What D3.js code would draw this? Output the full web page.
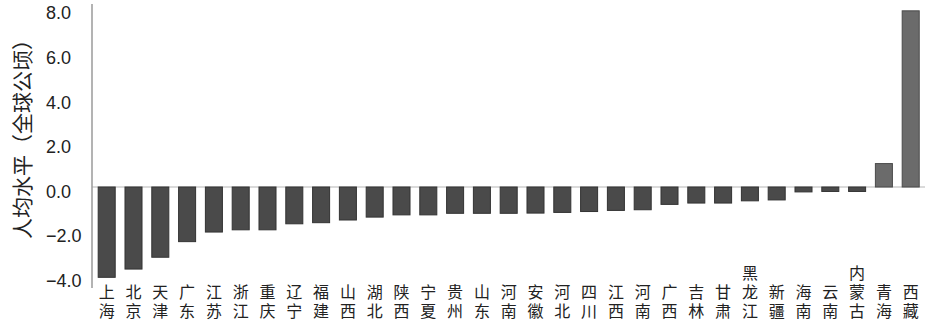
<!DOCTYPE html>
<html>
<head>
<meta charset="utf-8">
<script src="https://cdn.jsdelivr.net/npm/d3@7"></script>
<style>
  body { margin: 0; background: #fff; }
  svg { display: block; }
</style>
</head>
<body>
<div id="root"><svg width="931" height="326"></svg></div>
<script>
const provinces = ['上海', '北京', '天津', '广东', '江苏', '浙江', '重庆', '辽宁', '福建', '山西',
  '湖北', '陕西', '宁夏', '贵州', '山东', '河南', '安徽', '河北', '四川', '江西',
  '河南', '广西', '吉林', '甘肃', '黑龙江', '新疆', '海南', '云南', '内蒙古', '青海', '西藏'];
const perCapita = [-4.05, -3.68, -3.15, -2.45, -2.02, -1.92, -1.92, -1.65, -1.6, -1.48,
  -1.35, -1.25, -1.25, -1.18, -1.18, -1.18, -1.17, -1.14, -1.1, -1.05,
  -1.02, -0.78, -0.72, -0.72, -0.62, -0.58, -0.22, -0.2, -0.2, 1.05, 7.9];
const yTicks = [-4, -2, 0, 2, 4, 6, 8];
const yTitle = '人均水平（全球公顷）';

function drawChart() {
  const svg = d3.select('#root svg');
  const axisX = 92;

  const xScale = d3.scaleBand()
    .domain(d3.range(provinces.length))
    .range([93.3, 924.1])
    .paddingInner(0.365)
    .paddingOuter(0.1825);
  const yScale = d3.scaleLinear().domain([-4, 8]).range([276.2, 8.6]);

  // zero line
  svg.append('line')
    .attr('x1', axisX).attr('x2', 925)
    .attr('y1', yScale(0)).attr('y2', yScale(0))
    .attr('stroke', '#b5b5b5')
    .attr('stroke-width', 1.2);

  // y axis: labels only, line drawn separately
  const yAxis = d3.axisLeft(yScale)
    .tickValues(yTicks)
    .tickSize(0)
    .tickFormat(d3.format('.1f'));
  const yG = svg.append('g')
    .attr('transform', `translate(${axisX} 0)`)
    .call(yAxis);
  yG.select('.domain').remove();
  yG.selectAll('text')
    .attr('x', 46 - axisX)
    .attr('y', 4)
    .attr('dy', '0.35em')
    .attr('text-anchor', 'start')
    .attr('fill', '#222')
    .style('font-family', '"Liberation Sans", Arial, sans-serif')
    .style('font-size', '18px');

  svg.append('line')
    .attr('x1', axisX).attr('x2', axisX)
    .attr('y1', 4).attr('y2', 288)
    .attr('stroke', '#9a9a9a')
    .attr('stroke-width', 1.5);

  svg.append('text')
    .attr('transform', 'translate(30 134) rotate(-90)')
    .attr('text-anchor', 'middle')
    .attr('fill', '#222')
    .style('font-family', '"Noto Sans CJK SC", sans-serif')
    .style('font-size', '21px')
    .text(yTitle);

  // bars
  svg.selectAll('rect.bar')
    .data(perCapita)
    .enter()
    .append('rect')
    .attr('class', 'bar')
    .attr('x', (d, i) => xScale(i))
    .attr('y', (d) => yScale(Math.max(0, d)))
    .attr('width', xScale.bandwidth())
    .attr('height', (d) => Math.abs(yScale(d) - yScale(0)))
    .attr('fill', (d) => d > 0 ? '#6b6b6b' : '#4a4a4a')
    .attr('stroke', (d) => d > 0 ? '#4a4a4a' : '#333')
    .attr('stroke-width', 1);

  // category labels written vertically, bottom aligned
  svg.selectAll('text.cat')
    .data(provinces)
    .enter()
    .append('text')
    .attr('class', 'cat')
    .attr('x', (d, i) => xScale(i) + xScale.bandwidth() / 2)
    .attr('y', 322)
    .attr('text-anchor', 'end')
    .attr('fill', '#222')
    .style('writing-mode', 'vertical-rl')
    .style('letter-spacing', '3px')
    .style('font-family', '"Noto Sans CJK SC", sans-serif')
    .style('font-size', '16px')
    .text((d) => d);
}

window.addEventListener('load', drawChart);
</script>
</body>
</html>
